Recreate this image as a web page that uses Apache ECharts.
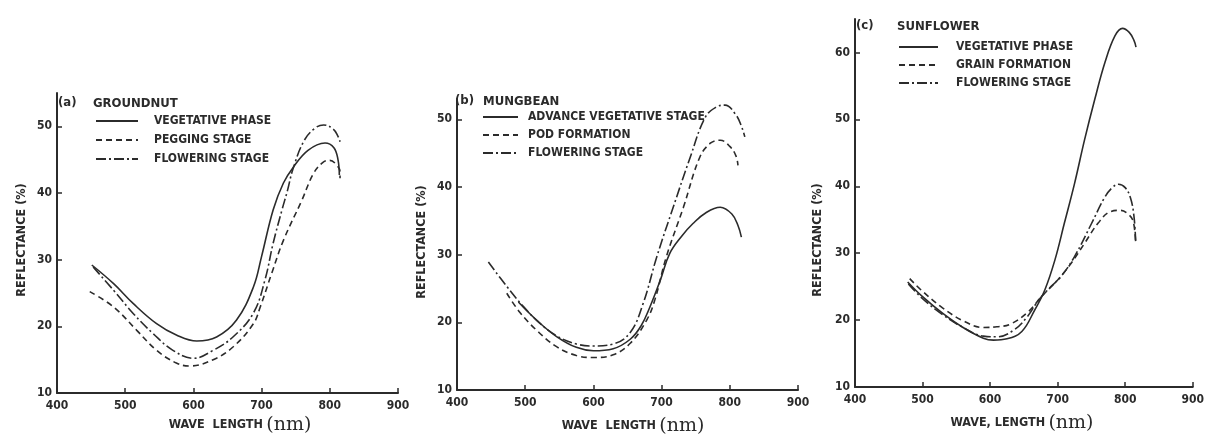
<!DOCTYPE html>
<html>
<head>
<meta charset="utf-8">
<script src="https://cdn.jsdelivr.net/npm/echarts@6/dist/echarts.min.js"></script>
<style>
html, body { margin: 0; background: #fff; }
#chart { width: 1207px; height: 434px; }
</style>
</head>
<body>
<div id="chart"></div>
<script>
// (a) groundnut, [wavelength nm, reflectance %]
const groundnutVegetative = [[451,29.2],[483,26.4],[512,23.4],[546,20.4],[575,18.7],[605,17.8],[634,18.4],[663,20.9],[688,25.9],[700,30.5],[717,37.5],[732,41.5],[746,43.8],[768,46.4],[793,47.5],[806,46.8],[812,45],[814,42.7]]
const groundnutPegging = [[448,25.2],[483,22.9],[517,19.4],[546,16.4],[575,14.5],[595,14.05],[629,15],[658,16.9],[688,20.4],[698,22.9],[715,28],[732,32.9],[759,38.9],[776,42.9],[790,44.6],[800,44.9],[810,44.2],[815,43.2],[815,42.2]]
const groundnutFlowering = [[453,28.9],[483,25.4],[512,21.9],[541,18.9],[570,16.4],[600,15.2],[629,16.4],[658,18.4],[688,22],[705,27],[717,32.5],[730,37.5],[738,40.4],[746,43.6],[762,47.8],[778,49.7],[791,50.2],[805,49.6],[812,48.5],[815,47.7]]

// (b) mungbean
const mungbeanVegetative = [[490,23],[517,20.3],[546,17.9],[575,16.3],[600,15.8],[629,16.1],[654,17.5],[670,19.5],[683,22.3],[698,26.2],[712,30.2],[730,32.8],[746,34.6],[765,36.2],[786,37],[803,36],[812,34.3],[817,32.6]]
const mungbeanPod = [[473,24.3],[492,21.5],[517,18.8],[546,16.4],[575,15.1],[600,14.8],[629,15.2],[654,16.9],[678,20.3],[690,23.3],[707,29.7],[732,37],[756,44.4],[772,46.5],[786,46.9],[800,46],[809,44.6],[812,43.2]]
const mungbeanFlowering = [[446,28.9],[473,25.3],[495,22.6],[520,20],[546,18],[575,16.8],[600,16.5],[629,16.8],[654,18.5],[673,22.8],[693,29.7],[717,37],[742,44.4],[764,50.3],[780,51.8],[793,52.1],[808,50.8],[817,49],[822,47.4]]

// (c) sunflower
const sunflowerVegetative = [[478,25.7],[500,23.5],[530,21],[560,18.9],[590,17.3],[605,17],[625,17.2],[647,18.3],[666,21.5],[681,24.5],[696,29],[710,34.5],[725,40.4],[740,47],[755,53],[770,58.5],[785,62.5],[796,63.6],[806,63],[813,61.8],[816,60.8]]
const sunflowerGrain = [[481,26.2],[500,24.3],[530,21.8],[560,19.9],[590,18.9],[610,19],[630,19.4],[656,21.2],[676,23.5],[700,26],[720,28.5],[740,31.5],[760,34.5],[778,36.2],[793,36.4],[805,35.8],[812,34.7],[815.5,31.4]]
const sunflowerFlowering = [[479,25.4],[500,23.2],[530,20.8],[560,18.9],[590,17.6],[610,17.5],[635,18.5],[655,20.5],[672,23],[690,25],[705,26.5],[725,29.5],[750,34.4],[770,38.4],[782,39.9],[790,40.3],[800,39.8],[808,38.2],[813,35.5],[815.5,31.8]]

const namesA = ['VEGETATIVE PHASE', 'PEGGING STAGE', 'FLOWERING STAGE']
const namesB = ['ADVANCE VEGETATIVE STAGE', 'POD FORMATION', 'FLOWERING STAGE']
const namesC = ['VEGETATIVE PHASE', 'GRAIN FORMATION', 'FLOWERING STAGE']
const yMaxes = [55, 53, 65]

const ink = '#2b2b2b'
const font = '"DejaVu Sans Condensed", "Liberation Sans", sans-serif'
const dashes = ['solid', [6, 4], [10, 3, 2, 3]]

const chart = echarts.init(document.getElementById('chart'))

const grids = [
    { left: 57, top: 93, width: 341, height: 300 },
    { left: 457, top: 99, width: 341, height: 291 },
    { left: 855, top: 19, width: 341, height: 368 },
]

const axisLine = { lineStyle: { color: ink, width: 2 } }
const labelStyle = { color: ink, fontSize: 12, fontFamily: font, fontWeight: 'bold' }

const xAxes = grids.map((g, i) => ({
    type: 'value', gridIndex: i, min: 400, max: 900, interval: 100,
    axisLine: axisLine,
    axisTick: { inside: true, length: 5, lineStyle: { color: ink, width: 1.5 } },
    axisLabel: Object.assign({ margin: 7 }, labelStyle),
    splitLine: { show: false },
}))
const yAxes = grids.map((g, i) => ({
    type: 'value', gridIndex: i, min: 10, max: yMaxes[i], interval: 10,
    axisLine: axisLine,
    axisTick: { inside: true, length: 5, lineStyle: { color: ink, width: 1.5 } },
    axisLabel: Object.assign({ margin: 5, showMaxLabel: yMaxes[i] % 10 === 0 }, labelStyle),
    splitLine: { show: false },
}))

const panels = [
    { key: 'a', names: namesA, data: [groundnutVegetative, groundnutPegging, groundnutFlowering] },
    { key: 'b', names: namesB, data: [mungbeanVegetative, mungbeanPod, mungbeanFlowering] },
    { key: 'c', names: namesC, data: [sunflowerVegetative, sunflowerGrain, sunflowerFlowering] },
]

const series = []
panels.forEach((p, i) => {
    p.names.forEach((n, j) => {
        series.push({
            name: p.key + ':' + n,
            type: 'line',
            xAxisIndex: i,
            yAxisIndex: i,
            data: p.data[j],
            smooth: 0.4,
            symbol: 'none',
            silent: true,
            itemStyle: { color: ink },
            lineStyle: { color: ink, width: 1.6, type: dashes[j] },
        })
    })
})

const legendPos = [
    { left: 95, top: 114, itemWidth: 42, gap: 11, itemGap: 5 },
    { left: 482, top: 110, itemWidth: 35, gap: 5, itemGap: 4 },
    { left: 898, top: 40, itemWidth: 39, gap: 13, itemGap: 4 },
]
const legends = panels.map((p, i) => ({
    data: p.names.map(n => p.key + ':' + n),
    orient: 'vertical',
    left: legendPos[i].left,
    top: legendPos[i].top,
    itemWidth: legendPos[i].itemWidth,
    itemHeight: 10,
    itemGap: legendPos[i].itemGap,
    selectedMode: false,
    padding: 0,
    itemStyle: { opacity: 0 },
    formatter: n => n.slice(2),
    textStyle: { color: ink, fontSize: 12, fontFamily: font, fontWeight: 'bold', lineHeight: 14, padding: [0, 0, 0, legendPos[i].gap] },
}))

const titleFont = { color: ink, fontSize: 13, fontFamily: font, fontWeight: 'bold' }
const titles = [
    { text: '(a)', left: 58, top: 96 },
    { text: 'GROUNDNUT', left: 93, top: 97 },
    { text: '(b)', left: 455, top: 94 },
    { text: 'MUNGBEAN', left: 483, top: 95 },
    { text: '(c)', left: 856, top: 19 },
    { text: 'SUNFLOWER', left: 897, top: 20 },
].map(t => Object.assign({ padding: 0, textStyle: titleFont }, t))

const yNamePos = [[22, 240], [422, 242], [818, 240]]
const xNamePos = [[240, 425], [633, 426], [1022, 423]]
const xNames = ['WAVE  LENGTH', 'WAVE  LENGTH', 'WAVE, LENGTH']

const graphics = []
yNamePos.forEach(([x, y]) => {
    graphics.push({
        type: 'text', x: x, y: y, rotation: Math.PI / 2,
        style: { text: 'REFLECTANCE (%)', fill: ink, fontSize: 12.5, fontFamily: font, fontWeight: 'bold', align: 'center', verticalAlign: 'middle' },
    })
})
xNamePos.forEach(([x, y], i) => {
    graphics.push({
        type: 'text', x: x, y: y,
        style: {
            text: '{w|' + xNames[i] + '} {n|(nm)}',
            align: 'center', verticalAlign: 'middle',
            rich: {
                w: { fill: ink, fontSize: 12.5, fontFamily: font, fontWeight: 'bold' },
                n: { fill: ink, fontSize: 19, fontFamily: '"DejaVu Serif", "Liberation Serif", serif' },
            },
        },
    })
})

chart.setOption({
    backgroundColor: '#fff',
    animation: false,
    title: titles,
    legend: legends,
    grid: grids,
    xAxis: xAxes,
    yAxis: yAxes,
    series: series,
    graphic: graphics,
})
</script>
</body>
</html>
